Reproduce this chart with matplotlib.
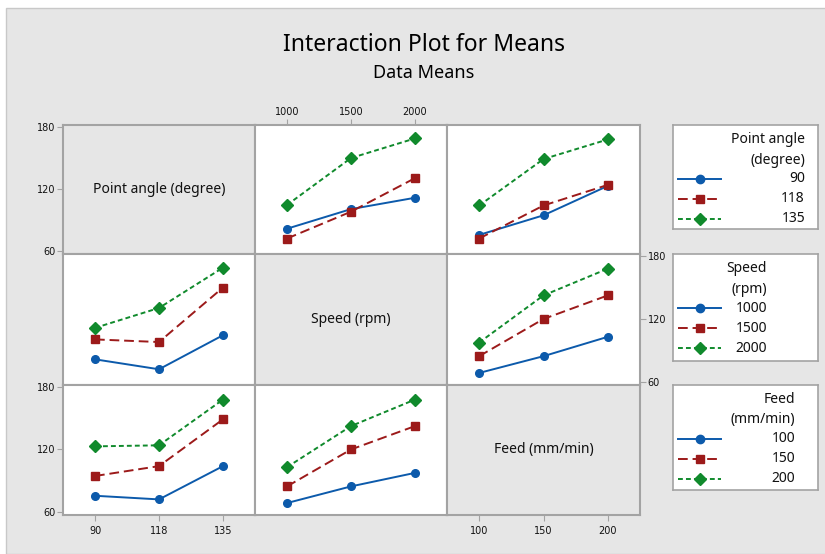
import numpy as np
import matplotlib.pyplot as plt
from matplotlib.patches import Rectangle

factor_names = ['Point angle (degree)', 'Speed (rpm)', 'Feed (mm/min)']
legend_titles = [['Point angle', '(degree)'], ['Speed', '(rpm)'], ['Feed', '(mm/min)']]
levels = [['90', '118', '135'], ['1000', '1500', '2000'], ['100', '150', '200']]

# cell means: rows = levels of first factor, columns = levels of second factor
angle_speed = np.array([[81.5, 100.5, 111.5],
                        [72.0, 98.0, 130.5],
                        [104.5, 150.0, 169.0]])
angle_feed = np.array([[75.5, 94.5, 123.0],
                       [72.0, 104.0, 124.0],
                       [104.0, 149.0, 168.0]])
speed_feed = np.array([[68.5, 84.5, 103.0],
                       [84.5, 120.0, 142.5],
                       [97.5, 142.5, 168.0]])
y_ticks = [60, 120, 180]

means = {(0, 1): angle_speed, (0, 2): angle_feed, (1, 2): speed_feed}


def cell_means(trace, xfac):
    if (trace, xfac) in means:
        return means[(trace, xfac)]
    return means[(xfac, trace)].T


W, H = 825, 554
BG = '#e6e6e6'
EDGE = '#a3a3a3'
TXT = '#111111'
styles = [dict(color='#0c5aab', ls='-', marker='o', ms=5.5),
          dict(color='#9c1a1a', ls=(0, (5, 2.5)), marker='s', ms=5.5),
          dict(color='#108a2c', ls=(0, (2.5, 1.6)), marker='D', ms=6)]
LW = 1.4
tick_font = dict(family=['Liberation Sans Narrow', 'DejaVu Sans'], size=7, color=TXT)
plt.rcParams['font.family'] = ['Noto Sans', 'DejaVu Sans']


def px_rect(x0, y0, x1, y1):
    return [x0 / W, 1 - y1 / H, (x1 - x0) / W, (y1 - y0) / H]


fig = plt.figure(figsize=(W / 100, H / 100), dpi=100, facecolor='white')
fig.patches.append(Rectangle((6 / W, 0), 1, 1 - 8 / H, transform=fig.transFigure,
                             facecolor=BG, edgecolor='#c8c8c8', lw=1, zorder=-10))

fig.text(424 / W, 1 - 45 / H, 'Interaction Plot for Means', ha='center', va='center',
         fontsize=16.5, color='black')
fig.text(424 / W, 1 - 73 / H, 'Data Means', ha='center', va='center',
         fontsize=13, color='black')

xs = [63, 255, 447, 640]
ys = [125, 254, 385, 515]

for r in range(3):
    for c in range(3):
        ax = fig.add_axes(px_rect(xs[c], ys[r], xs[c + 1], ys[r + 1]))
        for s in ax.spines.values():
            s.set_color(EDGE)
            s.set_linewidth(1.5)
        ax.set_xlim(-0.5, 2.5)
        ax.set_ylim(57, 182)
        ax.set_xticks([])
        ax.set_yticks([])
        ax.tick_params(length=4, width=0.8, color=EDGE, pad=1.5)
        if r == c:
            ax.set_facecolor(BG)
            ax.text(0.5, 0.5, factor_names[r], transform=ax.transAxes, ha='center',
                    va='center', fontsize=10, color=TXT)
        else:
            ax.set_facecolor('white')
            m = cell_means(r, c)
            for k in range(3):
                st = styles[k]
                ax.plot(range(3), m[k], color=st['color'], ls=st['ls'], lw=LW,
                        marker=st['marker'], ms=st['ms'], clip_on=False)
        if c == 0 and r in (0, 2):
            ax.set_yticks(y_ticks)
            ax.set_yticklabels([str(t) for t in y_ticks], fontdict=tick_font)
        if r == 1 and c == 2:
            ax.yaxis.tick_right()
            ax.set_yticks(y_ticks)
            ax.set_yticklabels([str(t) for t in y_ticks], fontdict=tick_font)
        if r == 0 and c == 1:
            ax.xaxis.tick_top()
            ax.set_xticks(range(3))
            ax.set_xticklabels(levels[1], fontdict=tick_font)
        if r == 2 and c in (0, 2):
            ax.set_xticks(range(3))
            ax.set_xticklabels(levels[c], fontdict=tick_font)
            ax.tick_params(axis='x', pad=4)

# legend boxes, drawn by hand in pixel units
boxes = [(125, 229, 132), (254, 361, 94), (385, 490, 122)]
for f, (y0, y1, xr) in enumerate(boxes):
    lax = fig.add_axes(px_rect(673, y0, 818, y1))
    lax.set_xlim(0, 145)
    lax.set_ylim(y1 - y0, 0)
    lax.set_xticks([])
    lax.set_yticks([])
    lax.set_facecolor('white')
    for s in lax.spines.values():
        s.set_color(EDGE)
        s.set_linewidth(1.2)
    lax.text(xr, 14.5, legend_titles[f][0], ha='right', va='center', fontsize=10, color=TXT)
    lax.text(xr, 35, legend_titles[f][1], ha='right', va='center', fontsize=10, color=TXT)
    for k in range(3):
        yy = 54 + 20 * k
        st = styles[k]
        lax.plot([5, 48], [yy, yy], color=st['color'], ls=st['ls'], lw=LW)
        lax.plot([27], [yy], color=st['color'], marker=st['marker'], ms=st['ms'] + 0.5)
        lax.text(xr, yy, levels[f][k], ha='right', va='center', fontsize=10, color=TXT)

fig.savefig('out.png', dpi=100, facecolor='white')
